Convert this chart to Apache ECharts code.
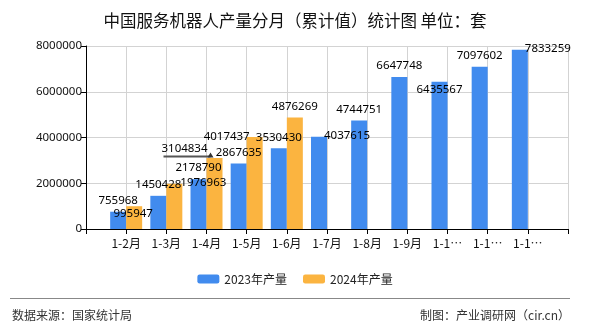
<!DOCTYPE html>
<html>
<head>
<meta charset="utf-8">
<script src="https://cdn.jsdelivr.net/npm/echarts@6/dist/echarts.min.js"></script>
<style>
html,body{margin:0;padding:0;background:#fff;}
#main{width:590px;height:330px;}
</style>
</head>
<body>
<div id="main"></div>
<script>
var categories = ['1-2月','1-3月','1-4月','1-5月','1-6月','1-7月','1-8月','1-9月','1-10月','1-11月','1-12月'];
var seriesNames = ['2023年产量','2024年产量'];
var values2023 = [755968,1450428,2178790,2867635,3530430,4037615,4744751,6647748,6435567,7097602,7833259];
var values2024 = [995947,1976963,3104834,4017437,4876269,null,null,null,null,null,null];
var yTicks = [0,2000000,4000000,6000000,8000000];

// label displacement (px) per series / category index, imitating the reference placement
var labelShift = {
  '0-5': [28, 10], '0-8': [0, 19], '0-10': [28, 10],
  '1-0': [-1, 19], '1-1': [29, 10], '1-2': [-30, 2], '1-3': [-28, 11]
};

// axis with an empty slot at each end (points sit on ticks)
var axisCats = [''].concat(categories).concat(['']);
function pad(arr){ return [null].concat(arr).concat([null]); }

var chart = echarts.init(document.getElementById('main'), null, {renderer:'canvas'});
var font = '"Noto Sans CJK SC", "Noto Sans", sans-serif';
var numFont = '"Noto Sans", "Liberation Sans", sans-serif';

var labelStyle = {show: true, position: 'top', distance: 5, color: '#000', fontSize: 11.5, fontFamily: numFont};

chart.setOption({
  animation: false,
  textStyle: {fontFamily: font},
  title: {
    text: '中国服务机器人产量分月（累计值）统计图 单位：套',
    left: 'center', top: 7,
    textStyle: {fontSize: 16.5, fontWeight: 'normal', color: '#111', fontFamily: font}
  },
  legend: {
    data: seriesNames,
    top: 268, left: 'center',
    itemWidth: 22, itemHeight: 9, itemGap: 16,
    textStyle: {fontSize: 12, color: '#222', fontFamily: font}
  },
  grid: {left: 86, right: 22, top: 46, bottom: 101, containLabel: false},
  xAxis: {
    type: 'category',
    data: axisCats,
    boundaryGap: false,
    axisLine: {lineStyle: {color: '#000', width: 1}},
    axisTick: {show: true, interval: 0, length: 5, lineStyle: {color: '#000'}},
    axisLabel: {interval: 0, color: '#111', fontSize: 12, margin: 8, width: 32, overflow: 'truncate', ellipsis: '…', fontFamily: font},
    splitLine: {show: true, interval: 0, lineStyle: {color: '#d3d3d3', width: 1}}
  },
  yAxis: {
    type: 'value',
    min: yTicks[0], max: yTicks[yTicks.length-1], interval: yTicks[1]-yTicks[0],
    axisLine: {show: true, lineStyle: {color: '#000', width: 1}},
    axisTick: {show: true, length: 5, lineStyle: {color: '#000'}},
    axisLabel: {color: '#111', fontSize: 11.5, margin: 4, fontFamily: numFont, formatter: function(v){ return String(v); }},
    splitLine: {show: true, lineStyle: {color: '#d3d3d3', width: 1}}
  },
  series: [
    {
      name: seriesNames[0], type: 'bar', data: pad(values2023),
      barWidth: 16, barGap: '0%',
      itemStyle: {color: '#418BEE'},
      label: labelStyle
    },
    {
      name: seriesNames[1], type: 'bar', data: pad(values2024),
      barWidth: 16, barGap: '0%',
      itemStyle: {color: '#FBB440'},
      label: labelStyle
    }
  ],
  labelLayout: function(p){
    var s = labelShift[p.seriesIndex + '-' + (p.dataIndex - 1)];
    if (s) return {dx: s[0], dy: s[1]};
    return {};
  },
  graphic: [
    {type: 'line', shape: {x1: 10, y1: 298.5, x2: 570, y2: 298.5}, style: {stroke: '#888', lineWidth: 1}},
    {type: 'text', left: 12, top: 309, style: {text: '数据来源：国家统计局', font: '12px ' + font, fill: '#333'}},
    {type: 'text', right: 20, top: 309, style: {text: '制图：产业调研网（cir.cn）', font: '12px ' + font, fill: '#333'}}
  ]
});

// leader line under the displaced 1-4月 2024 label, anchored via the library's scale
var anchor = chart.convertToPixel({seriesIndex: 1}, [3, values2024[2]]);
if (anchor) {
  var ax = anchor[0] + 4, ay = anchor[1] - 1.5;
  chart.setOption({
    graphic: [
      {type: 'line', id: 'leader', shape: {x1: ax - 47, y1: ay, x2: ax, y2: ay}, style: {stroke: '#555', lineWidth: 2}, z: 100},
      {type: 'polygon', id: 'leaderHead', shape: {points: [[ax - 3, ay + 1], [ax + 3, ay + 1], [ax, ay - 4]]}, style: {fill: '#333'}, z: 100}
    ]
  });
}
</script>
</body>
</html>
